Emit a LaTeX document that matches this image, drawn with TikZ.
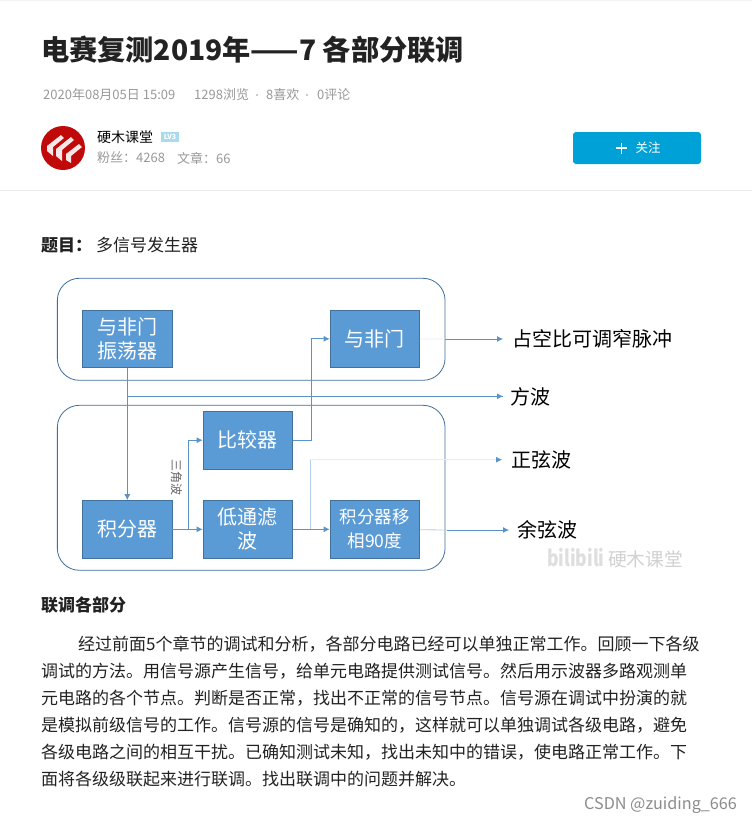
\documentclass[tikz,border=0pt]{standalone}
\usepackage{fontspec}
\setmainfont{Noto Sans CJK SC}
\usepackage{tikz}
\usetikzlibrary{arrows.meta, positioning}

\definecolor{boxblue}{HTML}{5B9BD5}
\definecolor{boxline}{HTML}{41719C}
\definecolor{groupline}{HTML}{3F6F9C}
\definecolor{wireblue}{HTML}{5B93C7}
\definecolor{wirepale}{HTML}{E3EEF7}
\definecolor{wiremid}{HTML}{B5D0E8}
\definecolor{inkdark}{HTML}{222222}
\definecolor{inkgrey}{HTML}{999999}
\definecolor{btnblue}{HTML}{00A1D6}
\definecolor{logored}{HTML}{C00A0A}
\definecolor{badgeblue}{HTML}{A8DCEB}

\begin{document}
\begin{tikzpicture}[x=1pt, y=-1pt,
    block/.style={rectangle, draw=boxline, fill=boxblue, line width=0.8pt, inner sep=0pt, minimum width=89.5pt, minimum height=57.5pt, align=center, text=white, font=\fontsize{20}{24}\selectfont},
    group/.style={rectangle, draw=groupline, rounded corners=22pt, line width=0.8pt, inner sep=0pt},
    wire/.style={draw=wireblue, line width=0.8pt},
    wirearrow/.style={wire, -{Latex[length=6pt, width=6pt]}},
    pale/.style={draw=wirepale, line width=0.8pt},
    outlabel/.style={anchor=west, inner sep=0pt, text=black, font=\fontsize{20}{24}\selectfont},
    para/.style={anchor=west, inner sep=0pt, text=inkdark, font=\fontsize{17}{20}\selectfont},
    meta/.style={anchor=west, inner sep=0pt, text=inkgrey, font=\fontsize{13}{15}\selectfont},
    head/.style={anchor=west, inner sep=0pt, text=inkdark, font=\fontsize{17}{20}\bfseries\selectfont}
]
\useasboundingbox (0,0) rectangle (752,823);
\fill[white] (0,0) rectangle (752,823);

% Page header
\draw[draw=black!5, line width=1pt] (0,0.5) -- (752,0.5);
\node[anchor=west, inner sep=0pt, text=inkdark, font=\fontsize{28.2}{32}\bfseries\selectfont] (title) at (41,50) {电赛复测2019年——7 各部分联调};
\node[meta] (date) at (43,95) {2020年08月05日 15:09};
\node[meta] (views) at (194,95) {1298浏览};
\node[meta] (likes) at (266,95) {8喜欢};
\node[meta] (comments) at (317,95) {0评论};
\node[circle, fill=inkgrey, inner sep=0.7pt] (dotA) at (257,95) {};
\node[circle, fill=inkgrey, inner sep=0.7pt] (dotB) at (307,95) {};

% Avatar and author line
\node[circle, fill=logored, minimum size=44pt, inner sep=0pt] (avatar) at (63,148) {};
\fill[white!90!logored] (47,146) -- (61,135) -- (64,138) -- (53,147) -- (53,156) -- (47,151) -- cycle;
\fill[white!90!logored] (56,149) -- (71,137) -- (74,140) -- (62,150) -- (62,161) -- (56,156) -- cycle;
\fill[white!90!logored] (66,154) -- (79,144) -- (82,147) -- (71,156) -- (71,163) -- (66,160) -- cycle;
\node[anchor=west, inner sep=0pt, text=black, font=\fontsize{14}{16}\selectfont] (author) at (97,137) {硬木课堂};
\node[rectangle, fill=badgeblue, inner sep=0pt, minimum width=18pt, minimum height=10pt, text=white, font=\fontsize{7}{8}\bfseries\selectfont] (level) at (170,137) {LV3};
\node[meta] (fans) at (97,158) {粉丝：4268};
\node[meta] (posts) at (177,158) {文章：66};
\node[rectangle, fill=btnblue, rounded corners=3pt, minimum width=128pt, minimum height=32pt, inner sep=0pt] (follow) at (637,148) {};
\node[inner sep=0pt, text=white, font=\fontsize{12.5}{14}\selectfont] (followtext) at (648,148) {关注};
\draw[draw=white, line width=1.6pt] (616,148) -- (627,148) (621.5,142.5) -- (621.5,153.5);
\draw[draw=black!8, line width=1pt] (0,190.5) -- (752,190.5);

\node[head] (topic) at (41,245) {题目：};
\node[anchor=west, inner sep=0pt, text=inkdark, font=\fontsize{17}{20}\selectfont] (topicname) at (96,245) {多信号发生器};

% Grouping frames
\node[group, minimum width=387.7pt, minimum height=102pt] (upper) at (251.2,329.3) {};
\node[group, minimum width=387.7pt, minimum height=165pt] (lower) at (251.2,487.8) {};

% Blocks
\node[block] (osc) at (127.3,338.8) {与非门\\振荡器};
\node[block] (nand) at (374.8,338.8) {与非门};
\node[block] (comp) at (247.8,440.2) {比较器};
\node[block] (integ) at (127.3,529.3) {积分器};
\node[block] (lpf) at (247.8,529.3) {低通滤\\波};
\node[block, font=\fontsize{17.5}{24}\selectfont] (shift) at (374.8,529.3) {积分器移\\相90度};

% Outputs
\node[outlabel] (pulse) at (512,339) {占空比可调窄脉冲};
\node[outlabel] (square) at (510,397) {方波};
\node[outlabel] (sine) at (511,460) {正弦波};
\node[outlabel] (cosine) at (517,530) {余弦波};
\coordinate (pulseEnd) at (503,339);
\coordinate (squareEnd) at (503,396.3);
\coordinate (sineEnd) at (502,459.7);
\coordinate (cosineEnd) at (509,530);
\coordinate (pulseEdge) at (445,339);
\coordinate (cosineEdge) at (447,530);

% Triangle wave note
\node[rotate=-90, inner sep=0pt, text=black!60, font=\fontsize{12}{12}\selectfont] (tri) at (176.5,477) {三角波};

% Junctions
\coordinate (oscTap) at (127.3,396.3);
\coordinate (integTap) at (188.3,529.3);
\coordinate (lpfTap) at (310,529.3);
\coordinate (lpfCorner) at (310,459.7);

% Connectors
\draw[wirearrow] (osc) -- (integ);
\draw[wire] (oscTap) -- (squareEnd);
\draw[wirearrow] (squareEnd) ++(-10,0) -- (squareEnd);
\draw[wirearrow] (integ) -- (lpf);
\draw[wirearrow] (integTap) |- (comp);
\draw[wirearrow] (comp) -| (311.3,395) |- (nand);
\draw[wirearrow] (lpf) -- (shift);
\draw[pale] (nand) -- (pulseEdge);
\draw[wirearrow] (pulseEdge) -- (pulseEnd);
\draw[pale, draw=wiremid] (shift) -- (cosineEdge);
\draw[wirearrow] (cosineEdge) -- (cosineEnd);
\draw[pale, draw=wiremid] (lpfTap) -- (lpfCorner);
\draw[pale] (lpfCorner) -- (sineEnd);
\draw[wirearrow] (sineEnd) ++(-6,0) -- (sineEnd);

% Watermark
\node[anchor=west, inner sep=0pt, xscale=0.8, text=black!13, font=\fontsize{22}{24}\bfseries\itshape\selectfont] (bili) at (547,558) {bilibili};
\node[anchor=west, inner sep=0pt, text=black!18, font=\fontsize{18.7}{20}\selectfont] (mark) at (608,559) {硬木课堂};

% Body text
\node[head] (heading) at (41,605) {联调各部分};
\node[para] (lineA) at (78,644) {经过前面5个章节的调试和分析，各部分电路已经可以单独正常工作。回顾一下各级};
\node[para] (lineB) at (41,671) {调试的方法。用信号源产生信号，给单元电路提供测试信号。然后用示波器多路观测单};
\node[para] (lineC) at (41,698) {元电路的各个节点。判断是否正常，找出不正常的信号节点。信号源在调试中扮演的就};
\node[para] (lineD) at (41,725) {是模拟前级信号的工作。信号源的信号是确知的，这样就可以单独调试各级电路，避免};
\node[para] (lineE) at (41,752) {各级电路之间的相互干扰。已确知测试未知，找出未知中的错误，使电路正常工作。下};
\node[para] (lineF) at (41,779) {面将各级级联起来进行联调。找出联调中的问题并解决。};
\node[anchor=west, inner sep=0pt, text=black!45, font=\fontsize{16.2}{18}\selectfont] (csdn) at (584,805) {CSDN @zuiding\_666};

\end{tikzpicture}
\end{document}
